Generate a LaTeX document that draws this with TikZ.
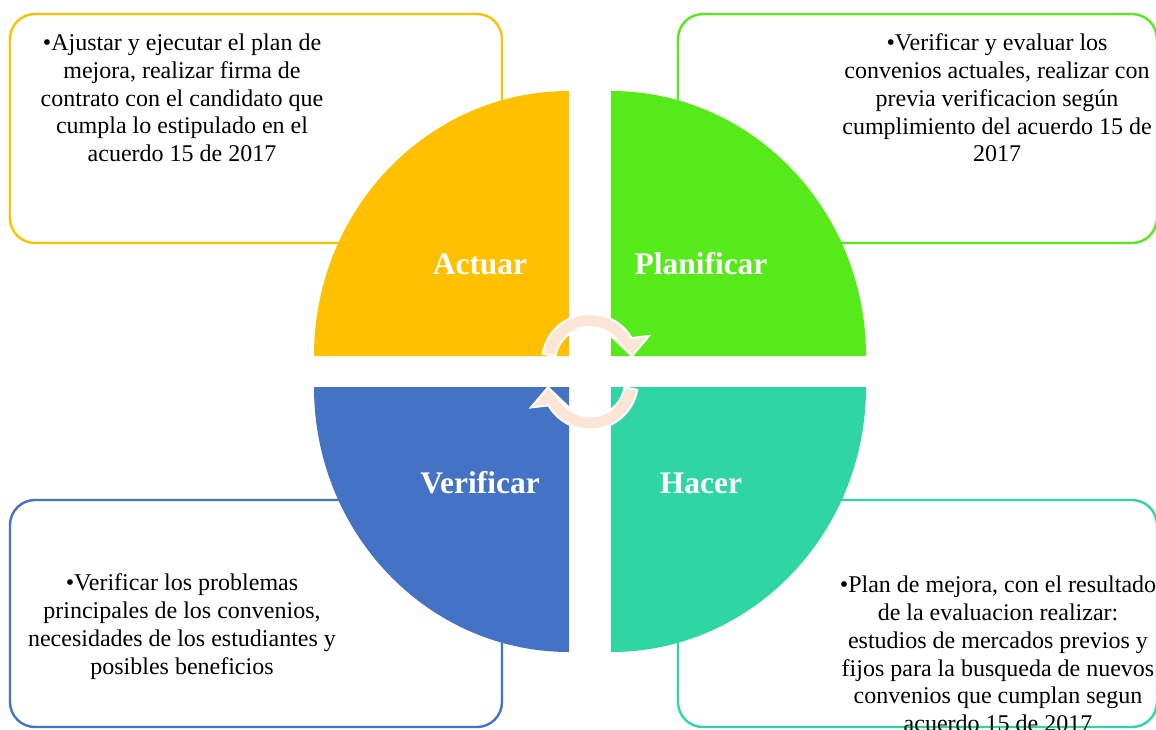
\documentclass[tikz,border=0pt]{standalone}
\usepackage{fontspec}
\setmainfont{Liberation Serif}
\definecolor{cOrange}{HTML}{FFC000}
\definecolor{cGreen}{HTML}{56EA1B}
\definecolor{cBlue}{HTML}{4472C4}
\definecolor{cTeal}{HTML}{2FD6A3}
\definecolor{arrowfill}{HTML}{FBE5D6}
\begin{document}
\begin{tikzpicture}[x=0.75pt,y=-0.75pt,
  box/.style={rounded corners=18.75pt, line width=1.8pt, fill=white},
  lbl/.style={text=white, font=\fontsize{23.6}{28}\selectfont\bfseries, anchor=base, inner sep=0},
  txt/.style={align=center, inner sep=0, font=\fontsize{18}{20.8}\selectfont},
  cyc/.style={fill=arrowfill, draw=white, line width=1.5pt, line join=miter}]
\useasboundingbox (0,0) rectangle (1156,729);
\clip (0,0) rectangle (1156,729);
\fill[white] (0,0) rectangle (1156,729);

% boxes
\draw[box, draw=cOrange] (10,14) rectangle (502,243);
\draw[box, draw=cGreen] (678,14) rectangle (1157,243);
\draw[box, draw=cBlue] (10,500) rectangle (502,727);
\draw[box, draw=cTeal] (678,500) rectangle (1157,727);

% quadrants
\fill[cOrange] (569,356) -- (314,356) arc[start angle=180, end angle=270, x radius=255, y radius=265] -- cycle;
\fill[cGreen] (611,356) -- (611,91) arc[start angle=270, end angle=360, x radius=255, y radius=265] -- cycle;
\fill[cTeal] (611,387) -- (866,387) arc[start angle=0, end angle=90, x radius=255, y radius=265] -- cycle;
\fill[cBlue] (569,387) -- (569,652) arc[start angle=90, end angle=180, x radius=255, y radius=265] -- cycle;

% labels
\node[lbl] (actuar) at (480,274) {Actuar};
\node[lbl] (planificar) at (701,274) {Planificar};
\node[lbl] (verificar) at (480,493) {Verificar};
\node[lbl] (hacer) at (701,493) {Hacer};

% texts
\node[txt] (tA) at (182,98) {•Ajustar y ejecutar el plan de\\mejora, realizar firma de\\contrato con el candidato que\\cumpla lo estipulado en el\\acuerdo 15 de 2017};
\node[txt] (tP) at (997,98) {•Verificar y evaluar los\\convenios actuales, realizar con\\previa verificacion según\\cumplimiento del acuerdo 15 de\\2017};
\node[txt] (tV) at (182,626.5) {•Verificar los problemas\\principales de los convenios,\\necesidades de los estudiantes y\\posibles beneficios};
\node[txt] (tH) at (998,654) {•Plan de mejora, con el resultado\\de la evaluacion realizar:\\estudios de mercados previos y\\fijos para la busqueda de nuevos\\convenios que cumplan segun\\acuerdo 15 de 2017};

% cycle arrows
\begin{scope}[shift={(590,362)}]
\path[cyc] (190:48) arc[start angle=190, end angle=330, radius=48] -- (59,-26) -- (42,-6) -- (20,-27) -- (322:35) arc[start angle=322, end angle=190, radius=35] -- cycle;
\end{scope}
\begin{scope}[shift={(590,381.4)}, rotate=180]
\path[cyc] (190:48) arc[start angle=190, end angle=330, radius=48] -- (59,-26) -- (42,-6) -- (20,-27) -- (322:35) arc[start angle=322, end angle=190, radius=35] -- cycle;
\end{scope}
\end{tikzpicture}
\end{document}
